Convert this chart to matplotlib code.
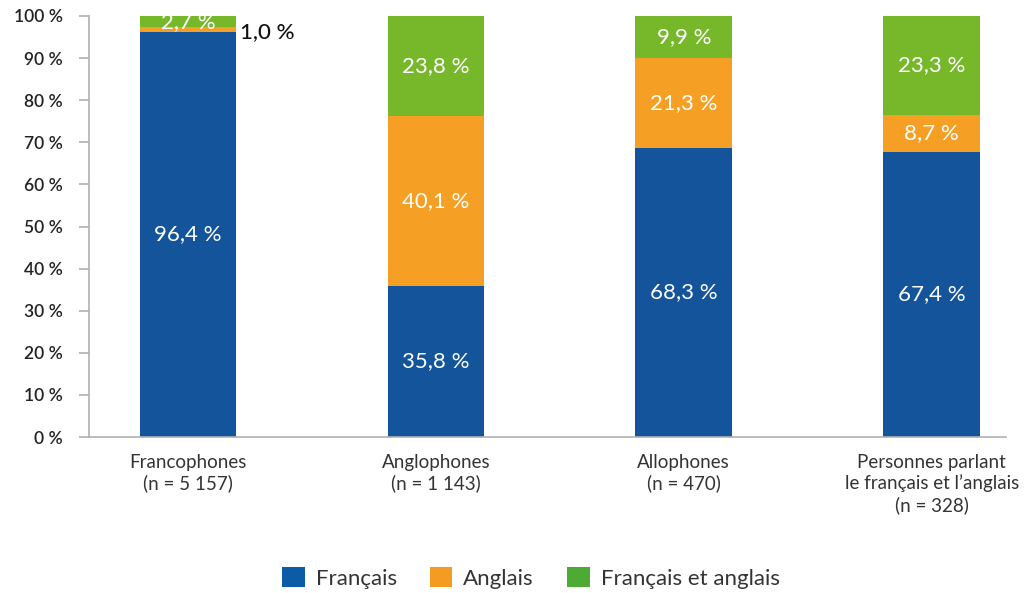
import matplotlib
matplotlib.use("Agg")
import matplotlib.pyplot as plt
from matplotlib.patches import Patch
import numpy as np

plt.rcParams['font.family'] = ['Lato', 'DejaVu Sans']

categories = ["Francophones\n(n = 5 157)", "Anglophones\n(n = 1 143)", "Allophones\n(n = 470)",
              "Personnes parlant\nle français et l\u2019anglais\n(n = 328)"]
series_names = ["Français", "Anglais", "Français et anglais"]
francais = [96.4, 35.8, 68.3, 67.4]
anglais = [1.0, 40.1, 21.3, 8.7]
fr_et_an = [2.7, 23.8, 9.9, 23.3]
yticks = [0, 10, 20, 30, 40, 50, 60, 70, 80, 90, 100]

bar_colors = ["#14549B", "#F59F24", "#77B82B"]
legend_colors = ["#0C5BA6", "#F49C21", "#4DAA34"]

fig = plt.figure(figsize=(10.24, 5.93), dpi=100)
ax = fig.add_axes([89/1024, 1-437/593, (1006-89)/1024, 421/593])

data = np.array([francais, anglais, fr_et_an])
totals = data.sum(axis=0)
shares = data / totals * 100  # 100 % stacked bars

x = np.arange(len(categories))
w = 0.39
bottom = np.zeros(len(categories))
for vals, share, col in zip(data, shares, bar_colors):
    ax.bar(x, share, w, bottom=bottom, color=col, zorder=2)
    for i, v in enumerate(vals):
        mid = bottom[i] + share[i] / 2
        lab = f"{v:.1f} %".replace(".", ",")
        if v < 2:
            ax.text(x[i] + w/2 + 0.015, mid - 0.6, lab, ha="left", va="center",
                    color="#111111", fontsize=16, fontweight="medium")
        else:
            ax.text(x[i], mid, lab, ha="center", va="center", color="white", fontsize=16)
    bottom += share

ax.set_xlim(-0.4, 3.3)
ax.set_ylim(0, 100)
ax.set_yticks(yticks)
ax.set_yticklabels([f"{t} %" for t in yticks], fontsize=12.5, color="#222222", fontweight="semibold")
ax.set_xticks(x)
ax.set_xticklabels(categories, fontsize=13.5, color="#333333", linespacing=1.25)
ax.tick_params(axis="x", length=0, pad=12)
ax.tick_params(axis="y", length=7, color="#B0B0B0", width=1.2, pad=12)
for s in ["top", "right"]:
    ax.spines[s].set_visible(False)
for s in ["left", "bottom"]:
    ax.spines[s].set_color("#B0B0B0")
    ax.spines[s].set_linewidth(1.2)

handles = [Patch(facecolor=c, edgecolor="none") for c in legend_colors]
fig.legend(handles, series_names, loc="center", bbox_to_anchor=(531/1024, 1-578/593), ncol=3,
           frameon=False, fontsize=16, handlelength=1.0, handleheight=1.0,
           columnspacing=1.5, handletextpad=0.5, labelcolor="#333333")

fig.savefig("out.png", dpi=100)
